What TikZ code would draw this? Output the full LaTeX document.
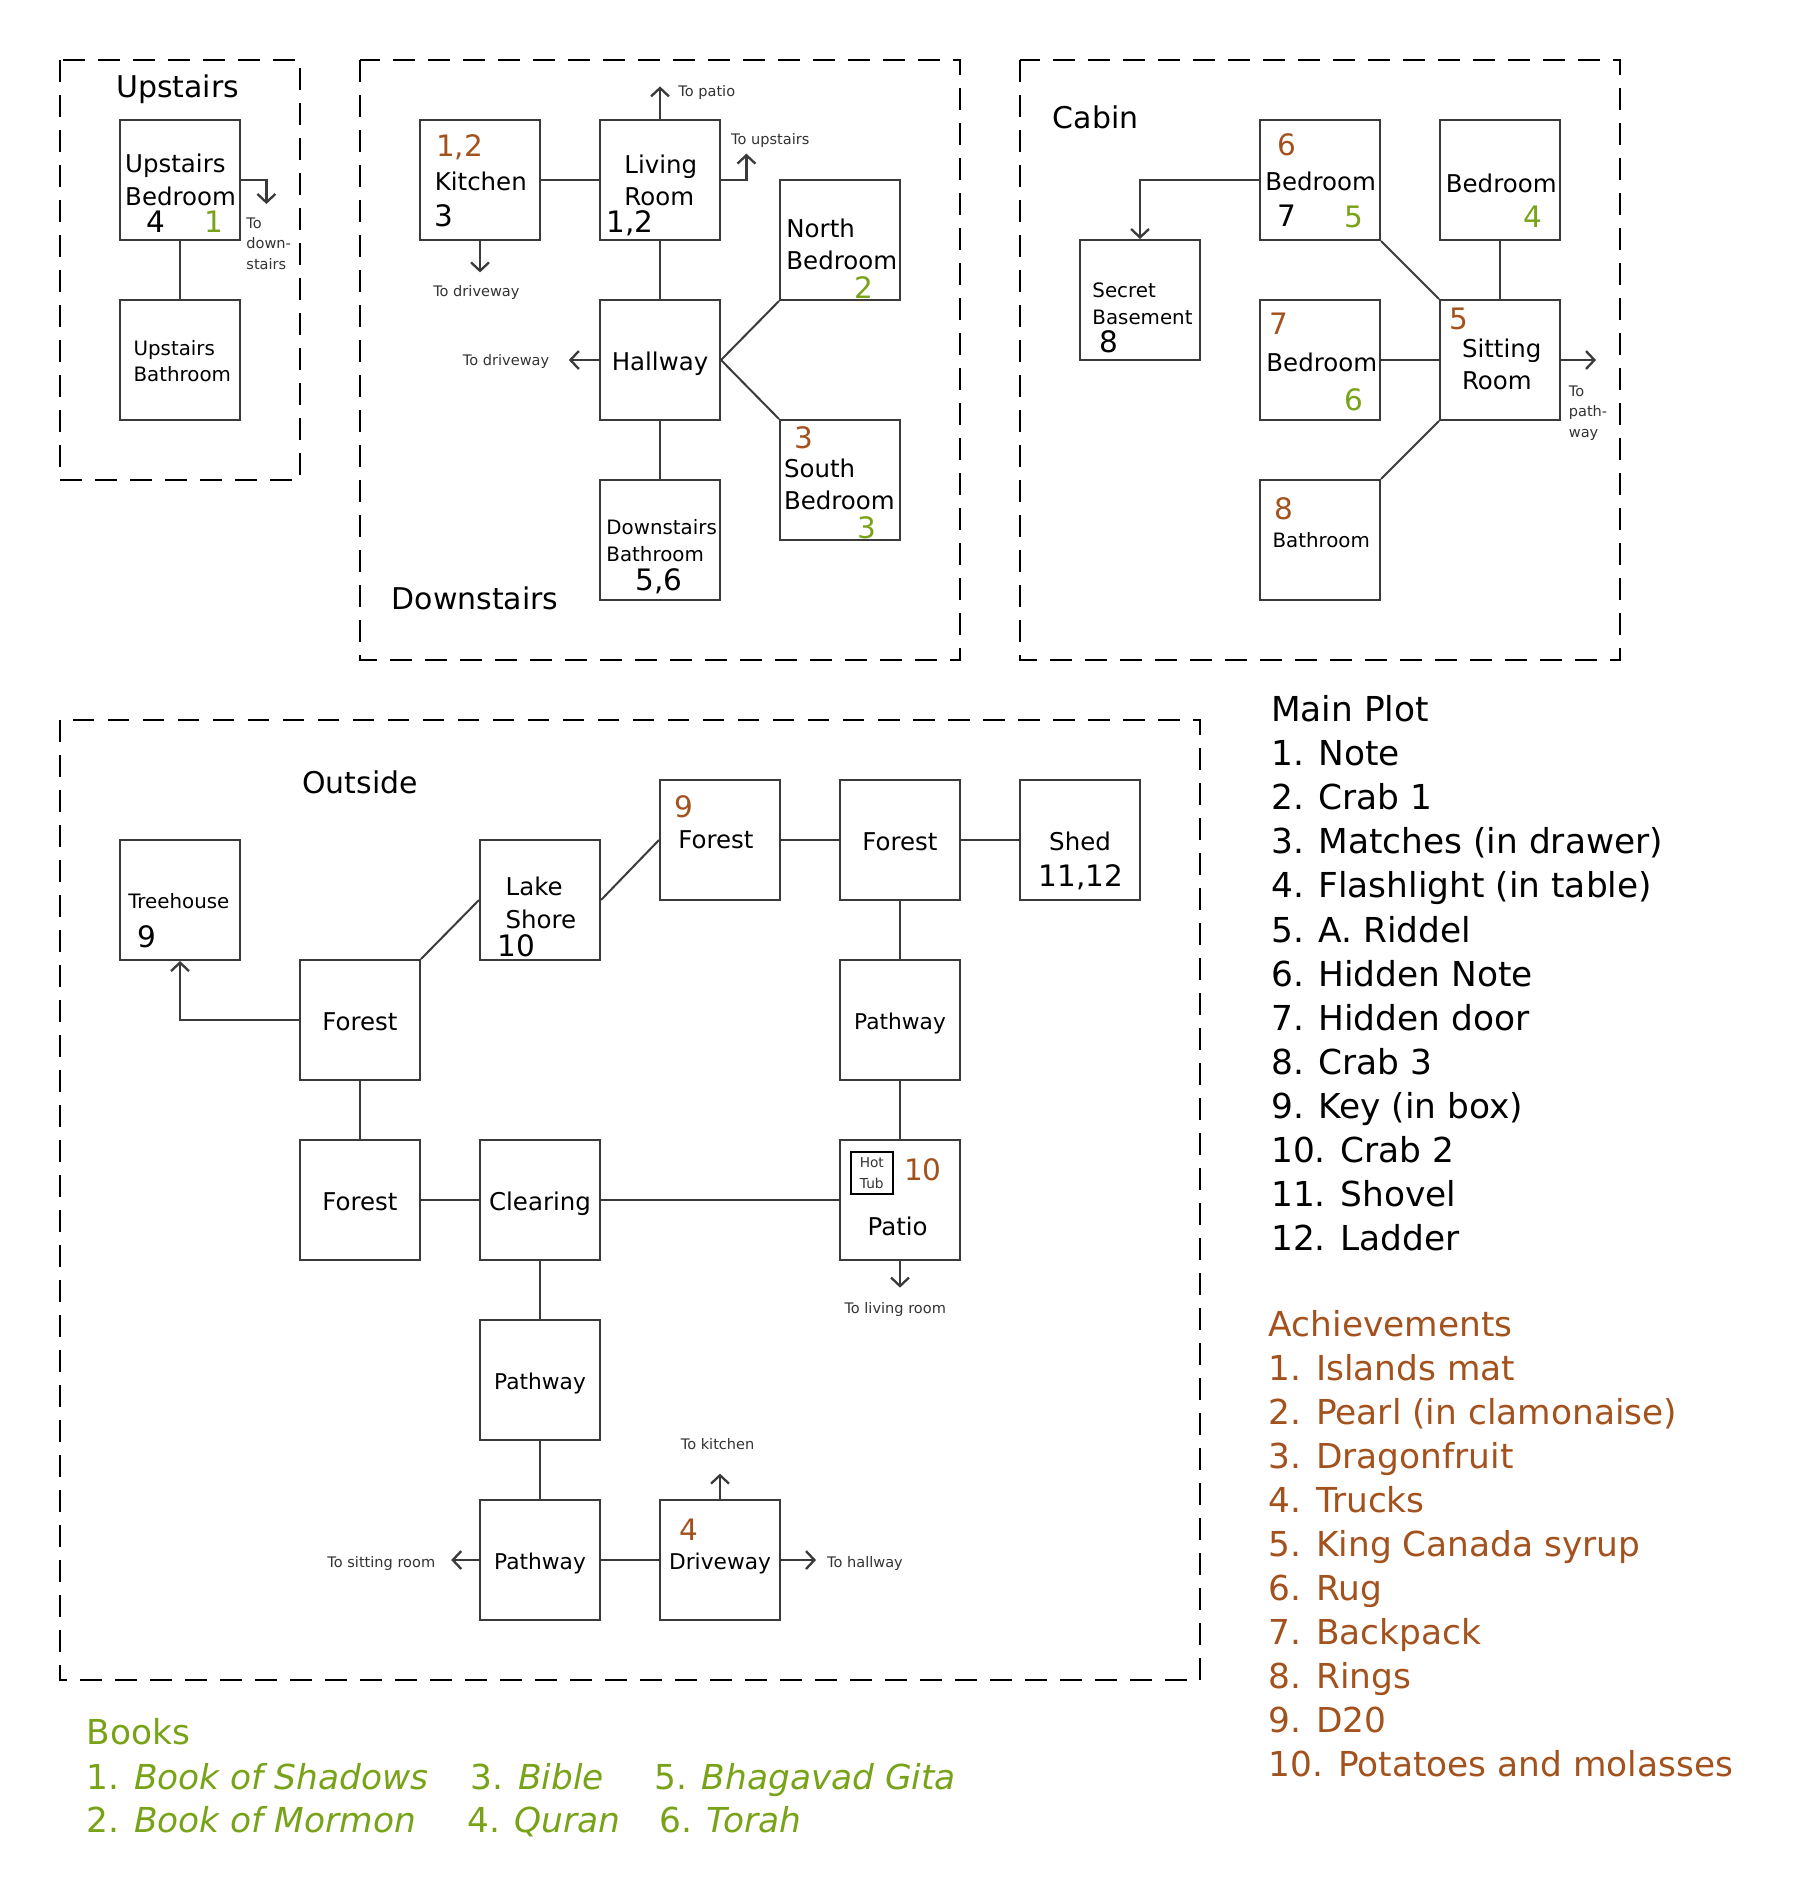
\documentclass[tikz,border=0pt]{standalone}
\usepackage{fontspec}
\setmainfont{DejaVu Sans}
\usetikzlibrary{arrows.meta}

\definecolor{plotbrown}{RGB}{163,82,30}
\definecolor{bookgreen}{RGB}{120,163,24}
\definecolor{linegray}{RGB}{58,58,58}

\tikzset{
  >={Straight Barb[length=4pt,width=8.5pt]},
  room/.style={draw=linegray, line width=0.95pt, minimum size=2cm, inner sep=0pt,
    font=\fontsize{11.6}{15.4}\selectfont, text height=10pt, text depth=0pt},
  roomtext/.style={font=\fontsize{11.6}{15.4}\selectfont, align=left, inner sep=0pt},
  smalltext/.style={font=\fontsize{9.4}{12.5}\selectfont, align=left, inner sep=0pt},
  pathtext/.style={font=\fontsize{10.3}{13}\selectfont, text height=9pt},
  itemnum/.style={font=\fontsize{14}{16}\selectfont, inner sep=0pt},
  brownnum/.style={itemnum, text=plotbrown},
  greennum/.style={itemnum, text=bookgreen},
  door/.style={draw=linegray, line width=0.95pt},
  exitarrow/.style={door, line width=1.1pt, ->},
  exitlabel/.style={font=\fontsize{6.9}{9.7}\selectfont, text=black!80, align=left, inner sep=0pt},
  floorframe/.style={draw=black, line width=1.3pt, dash pattern=on 10.3pt off 6.3pt},
  floorname/.style={font=\fontsize{14.2}{17}\selectfont, inner sep=0pt},
  listline/.style={font=\fontsize{16.3}{20.9}\selectfont, inner sep=0pt, anchor=base west}
}

\begin{document}
\begin{tikzpicture}
\useasboundingbox (0,0) rectangle (30,-31.333);

% upstairs
\draw[floorframe] (1,-1) rectangle (5,-8);
\node[floorname] (upname) at (2.96,-1.48) {Upstairs};
\node[room] (ubed) at (3,-3) {};
\node[roomtext, anchor=west] (ubedtxt) at (2.08,-3.0) {Upstairs\\Bedroom};
\node[itemnum] (ubedn) at (2.6,-3.7) {4};
\node[greennum] (ubedg) at (3.56,-3.7) {1};
\node[room] (ubath) at (3,-6) {};
\node[smalltext, anchor=west] (ubathtxt) at (2.22,-6.02) {Upstairs\\Bathroom};
\draw[door] (ubed.south) -- (ubath.north);
\coordinate (ubedexit) at (4.44,-3.4);
\draw[exitarrow] (ubed.east) -| (ubedexit);
\node[exitlabel, anchor=west] (ubedlbl) at (4.1,-4.06) {To\\down-\\stairs};

% downstairs
\draw[floorframe] (6,-1) rectangle (16,-11);
\node[floorname, anchor=west] (downname) at (6.52,-9.98) {Downstairs};
\node[room] (kitchen) at (8,-3) {};
\node[brownnum, anchor=west] (kitchenb) at (7.26,-2.46) {1,2};
\node[roomtext, anchor=west] (kitchentxt) at (7.24,-3.02) {Kitchen};
\node[itemnum] (kitchenn) at (7.4,-3.6) {3};
\node[room] (living) at (11,-3) {};
\node[roomtext, anchor=west] (livingtxt) at (10.4,-3.01) {Living\\Room};
\node[itemnum, anchor=west] (livingn) at (10.1,-3.72) {1,2};
\draw[door] (kitchen.east) -- (living.west);
\coordinate (livingup) at (11,-1.44);
\draw[exitarrow] (living.north) -- (livingup);
\node[exitlabel, anchor=west] (patiolbl) at (11.3,-1.54) {To patio};
\coordinate (livingright) at (12.44,-2.56);
\draw[exitarrow] (living.east) -| (livingright);
\node[exitlabel, anchor=west] (upstairslbl) at (12.18,-2.34) {To upstairs};
\coordinate (kitchendown) at (8,-4.54);
\draw[exitarrow] (kitchen.south) -- (kitchendown);
\node[exitlabel] (kdrivelbl) at (7.94,-4.88) {To driveway};
\node[room] (nbed) at (14,-4) {};
\node[roomtext, anchor=west] (nbedtxt) at (13.1,-4.07) {North\\Bedroom};
\node[greennum] (nbedg) at (14.4,-4.8) {2};
\node[room] (hallway) at (11,-6) {Hallway};
\node[room] (sbed) at (14,-8) {};
\node[brownnum] (sbedb) at (13.4,-7.3) {3};
\node[roomtext, anchor=west] (sbedtxt) at (13.06,-8.07) {South\\Bedroom};
\node[greennum] (sbedg) at (14.44,-8.8) {3};
\node[room] (dbath) at (11,-9) {};
\node[smalltext, anchor=west] (dbathtxt) at (10.1,-9.01) {Downstairs\\Bathroom};
\node[itemnum] (dbathn) at (10.98,-9.68) {5,6};
\draw[door] (living.south) -- (hallway.north);
\draw[door] (hallway.east) -- (nbed.south west);
\draw[door] (hallway.east) -- (sbed.north west);
\draw[door] (hallway.south) -- (dbath.north);
\coordinate (hallleft) at (9.48,-6);
\draw[exitarrow] (hallway.west) -- (hallleft);
\node[exitlabel, anchor=east] (hdrivelbl) at (9.16,-6.02) {To driveway};

% cabin
\draw[floorframe] (17,-1) rectangle (27,-11);
\node[floorname, anchor=west] (cabinname) at (17.54,-1.96) {Cabin};
\node[room] (cbedsix) at (22,-3) {};
\node[brownnum] (cbedsixb) at (21.44,-2.42) {6};
\node[roomtext, anchor=west] (cbedsixtxt) at (21.08,-3.02) {Bedroom};
\node[itemnum] (cbedsixn) at (21.44,-3.6) {7};
\node[greennum] (cbedsixg) at (22.56,-3.62) {5};
\node[room] (cbedfour) at (25,-3) {};
\node[roomtext] (cbedfourtxt) at (25.02,-3.06) {Bedroom};
\node[greennum] (cbedfourg) at (25.54,-3.62) {4};
\node[room] (basement) at (19,-5) {};
\node[smalltext, anchor=west] (basementtxt) at (18.2,-5.06) {Secret\\Basement};
\node[itemnum] (basementn) at (18.48,-5.7) {8};
\draw[exitarrow] (cbedsix.west) -| (basement.north);
\node[room] (cbedseven) at (22,-6) {};
\node[brownnum] (cbedsevenb) at (21.32,-5.4) {7};
\node[roomtext, anchor=west] (cbedseventxt) at (21.1,-6.04) {Bedroom};
\node[greennum] (cbedseveng) at (22.56,-6.66) {6};
\node[room] (sitting) at (25,-6) {};
\node[brownnum] (sittingb) at (24.32,-5.32) {5};
\node[roomtext, anchor=west] (sittingtxt) at (24.36,-6.07) {Sitting\\Room};
\node[room] (cbath) at (22,-9) {};
\node[brownnum] (cbathb) at (21.4,-8.48) {8};
\node[smalltext] (cbathtxt) at (22.02,-9.0) {Bathroom};
\draw[door] (cbedsix.south east) -- (sitting.north west);
\draw[door] (cbedfour.south) -- (sitting.north);
\draw[door] (cbedseven.east) -- (sitting.west);
\draw[door] (sitting.south west) -- (cbath.north east);
\coordinate (sittingexit) at (26.6,-6);
\draw[exitarrow] (sitting.east) -- (sittingexit);
\node[exitlabel, anchor=west] (pathlbl) at (26.14,-6.88) {To\\path-\\way};

% outside
\draw[floorframe] (1,-12) rectangle (20,-28);
\node[floorname] (outname) at (6,-13.04) {Outside};
\node[room] (treehouse) at (3,-15) {};
\node[smalltext] (treehousetxt) at (2.98,-15.02) {Treehouse};
\node[itemnum] (treehousen) at (2.44,-15.62) {9};
\node[room] (foresta) at (6,-17) {Forest};
\draw[exitarrow] (foresta.west) -| (treehouse.south);
\node[room] (lake) at (9,-15) {};
\node[roomtext, anchor=west] (laketxt) at (8.42,-15.05) {Lake\\Shore};
\node[itemnum] (laken) at (8.6,-15.76) {10};
\draw[door] (foresta.north east) -- (lake.west);
\node[room] (forestnine) at (12,-14) {};
\node[brownnum] (forestnineb) at (11.4,-13.44) {9};
\node[roomtext, anchor=west] (forestninetxt) at (11.3,-14.0) {Forest};
\draw[door] (lake.east) -- (forestnine.west);
\node[room] (forestb) at (15,-14) {Forest};
\node[room] (shed) at (18,-14) {};
\node[roomtext] (shedtxt) at (18,-14.02) {Shed};
\node[itemnum] (shedn) at (18.02,-14.62) {11,12};
\draw[door] (forestnine.east) -- (forestb.west);
\draw[door] (forestb.east) -- (shed.west);
\node[room, pathtext] (pathr) at (15,-17) {Pathway};
\draw[door] (forestb.south) -- (pathr.north);
\node[room] (patio) at (15,-20) {};
\node[draw=black, line width=1pt, minimum size=0.7cm, inner sep=0pt, align=center,
  font=\fontsize{6.5}{9.6}\selectfont, text=black!80] (hottub) at (14.53,-19.55) {Hot\\Tub};
\node[brownnum] (patiob) at (15.38,-19.5) {10};
\node[roomtext] (patiotxt) at (14.96,-20.44) {Patio};
\draw[door] (pathr.south) -- (patio.north);
\coordinate (patiodown) at (15,-21.46);
\draw[exitarrow] (patio.south) -- (patiodown);
\node[exitlabel] (livinglbl) at (14.92,-21.82) {To living room};
\node[room] (clearing) at (9,-20) {Clearing};
\draw[door] (clearing.east) -- (patio.west);
\node[room] (forestc) at (6,-20) {Forest};
\draw[door] (foresta.south) -- (forestc.north);
\draw[door] (forestc.east) -- (clearing.west);
\node[room, pathtext] (pathm) at (9,-23) {Pathway};
\draw[door] (clearing.south) -- (pathm.north);
\node[room, pathtext] (pathb) at (9,-26) {Pathway};
\draw[door] (pathm.south) -- (pathb.north);
\node[room] (driveway) at (12,-26) {};
\node[brownnum] (drivewayb) at (11.48,-25.5) {4};
\node[roomtext, pathtext] (drivewaytxt) at (12,-26.04) {Driveway};
\draw[door] (pathb.east) -- (driveway.west);
\coordinate (driveup) at (12,-24.56);
\draw[exitarrow] (driveway.north) -- (driveup);
\node[exitlabel] (kitchenlbl) at (11.96,-24.06) {To kitchen};
\coordinate (driveright) at (13.6,-26);
\draw[exitarrow] (driveway.east) -- (driveright);
\node[exitlabel, anchor=west] (hallwaylbl) at (13.78,-26.06) {To hallway};
\coordinate (pathleft) at (7.52,-26);
\draw[exitarrow] (pathb.west) -- (pathleft);
\node[exitlabel, anchor=east] (sittinglbl) at (7.26,-26.06) {To sitting room};

% lists
\foreach \txt [count=\i from 0] in {Main Plot, 1. Note, 2. Crab 1, 3. Matches (in drawer),
  4. Flashlight (in table), 5. A. Riddel, 6. Hidden Note, 7. Hidden door, 8. Crab 3,
  9. Key (in box), 10. Crab 2, 11. Shovel, 12. Ladder}
  \node[listline] (plot\i) at (21.18,{-12.03-0.734*\i}) {\txt};
\foreach \txt [count=\i from 0] in {Achievements, 1. Islands mat, 2. Pearl (in clamonaise),
  3. Dragonfruit, 4. Trucks, 5. King Canada syrup, 6. Rug, 7. Backpack, 8. Rings,
  9. D20, 10. Potatoes and molasses}
  \node[listline, text=plotbrown] (ach\i) at (21.14,{-22.27-0.734*\i}) {\txt};
\node[listline, text=bookgreen] (books) at (1.44,-29.08) {Books};
\node[listline, text=bookgreen] (bookone) at (1.44,-29.82) {1. \textit{Book of Shadows}};
\node[listline, text=bookgreen] (bookthree) at (7.84,-29.82) {3. \textit{Bible}};
\node[listline, text=bookgreen] (bookfive) at (10.9,-29.82) {5. \textit{Bhagavad Gita}};
\node[listline, text=bookgreen] (booktwo) at (1.44,-30.54) {2. \textit{Book of Mormon}};
\node[listline, text=bookgreen] (bookfour) at (7.78,-30.54) {4. \textit{Quran}};
\node[listline, text=bookgreen] (booksix) at (10.98,-30.54) {6. \textit{Torah}};
\end{tikzpicture}
\end{document}
